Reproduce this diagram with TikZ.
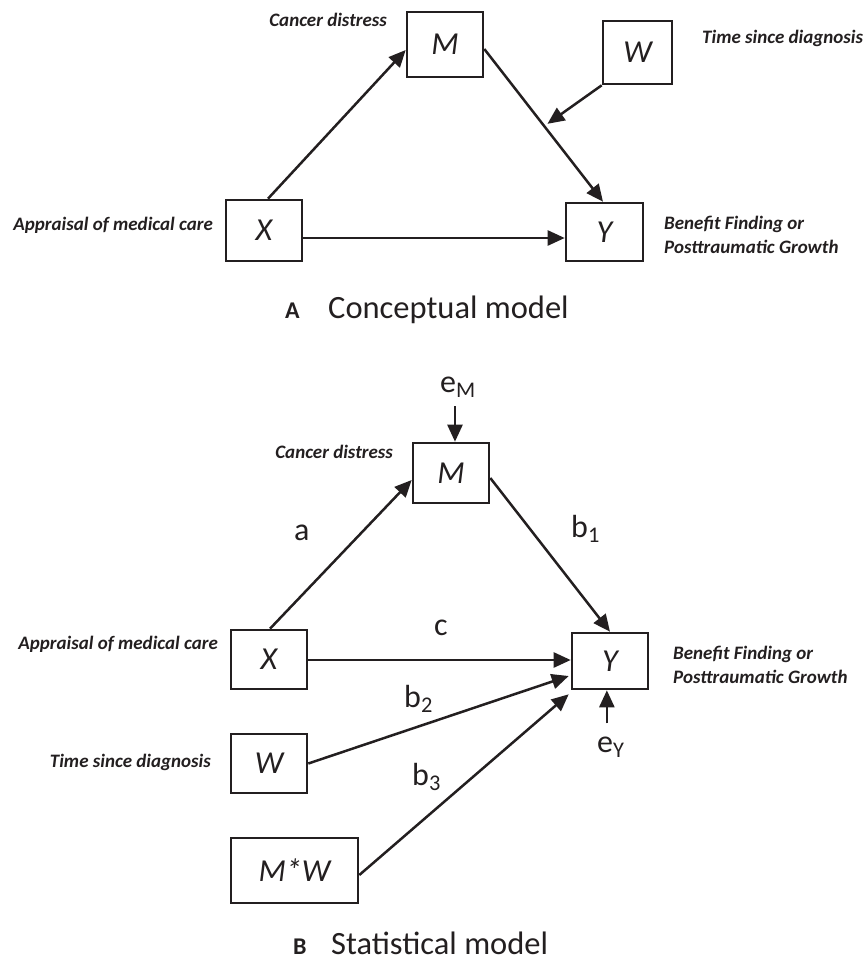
\documentclass[tikz,border=0pt]{standalone}
\usepackage{fontspec}
\setmainfont{Carlito}
\usetikzlibrary{arrows.meta,calc}
\definecolor{ink}{RGB}{35,31,32}
\begin{document}
\begin{tikzpicture}[x=1pt,y=-1pt,
  box/.style={draw=ink, line width=2.6pt, inner sep=0pt, text=ink,
    font=\fontsize{32}{32}\selectfont\itshape},
  arr/.style={draw=ink, line width=2.5pt, -{Triangle[length=17pt,width=15pt]}},
  lab/.style={font=\fontsize{19}{24}\selectfont\bfseries\itshape, text=ink, inner sep=0pt},
  coef/.style={font=\fontsize{32}{32}\selectfont, text=ink, inner sep=0pt, anchor=base west},
  ttlletter/.style={font=\fontsize{24}{24}\selectfont\bfseries, text=ink, inner sep=0pt, anchor=base west},
  ttltext/.style={font=\fontsize{32.5}{32.5}\selectfont, text=ink, inner sep=0pt, anchor=base west}]
\useasboundingbox (0,0) rectangle (867,962);

% ---------- Panel A ----------
\node[box, minimum width=76pt, minimum height=65pt] (MA) at (445,44.5) {M};
\node[box, minimum width=69pt, minimum height=63pt] (WA) at (637.5,52.5) {W};
\node[box, minimum width=76pt, minimum height=61pt] (XA) at (264,230.5) {X};
\node[box, minimum width=77pt, minimum height=58pt] (YA) at (604.5,232) {Y};

\node[lab, anchor=east] (lCdA) at (387,20) {Cancer distress};
\node[lab, anchor=west] (lTdA) at (702,38) {Time since diagnosis};
\node[lab, anchor=east] (lApA) at (213,225) {Appraisal of medical care};
\node[lab, anchor=west, align=left] (lBfA) at (664,235) {Benefit Finding or\\Posttraumatic Growth};

\coordinate (mA) at ($(MA.east)+(0,4.5)$);
\coordinate (yA) at ($(YA.north)+(-1.5,0)$);
\coordinate (tA) at ($(mA)!0.49!(yA)+(5,0)$);
\draw[arr] ($(XA.north)+(4,0)$) -- ($(MA.west)+(0,5.5)$);
\draw[arr] (mA) -- (yA);
\draw[arr] (WA.south west) -- (tA);
\draw[arr] ($(XA.east)+(0,7.5)$) -- ($(YA.west)+(0,6)$);

\node[ttlletter] (tA1) at (285,318) {A};
\node[ttltext] (tA2) at (328,318) {Conceptual model};

% ---------- Panel B ----------
\node[box, minimum width=76pt, minimum height=60pt] (MB) at (451,473) {M};
\node[box, minimum width=76pt, minimum height=59pt] (XB) at (269,659.5) {X};
\node[box, minimum width=76pt, minimum height=59pt] (WB) at (269,763.5) {W};
\node[box, minimum width=127pt, minimum height=65pt] (MWB) at (294.5,870.5) {M*W};
\node[box, minimum width=76pt, minimum height=56pt] (YB) at (610,661) {Y};

\node[lab, anchor=east] (lCdB) at (393,452) {Cancer distress};
\node[lab, anchor=east] (lApB) at (218,644) {Appraisal of medical care};
\node[lab, anchor=east] (lTdB) at (211,762) {Time since diagnosis};
\node[lab, anchor=west, align=left] (lBfB) at (673,664.5) {Benefit Finding or\\Posttraumatic Growth};

\node[coef] (eM) at (440,392) {e\textsubscript{M}};
\node[coef] (eY) at (597,752) {e\textsubscript{Y}};
\node[coef] (ca) at (294,540) {a};
\node[coef] (cc) at (434,635) {c};
\node[coef] (cb1) at (571,537) {b\textsubscript{1}};
\node[coef] (cb2) at (404,707) {b\textsubscript{2}};
\node[coef] (cb3) at (412,785) {b\textsubscript{3}};

\draw[arr] ($(eM.south)+(-3,8)$) -- ($(eM.south |- MB.north)+(-3,0)$);
\draw[arr] ($(eY.north)+(-4,-13)$) -- ($(eY.north |- YB.south)+(-4,0)$);
\draw[arr] ($(XB.north)+(1,0)$) -- ($(MB.west)+(0,7)$);
\draw[arr] ($(MB.east)+(0,5)$) -- (YB.north);
\coordinate (xB) at ($(XB.east)+(0,0.5)$);
\draw[arr] (xB) -- (xB -| YB.west);
\draw[arr] (WB.east) -- ($(YB.west)+(-2,15)$);
\draw[arr] ($(MWB.east)+(0,4.5)$) -- ($(YB.south west)+(-2,4)$);

\node[ttlletter] (tB1) at (293,954) {B};
\node[ttltext] (tB2) at (331,954) {Statistical model};
\end{tikzpicture}
\end{document}
